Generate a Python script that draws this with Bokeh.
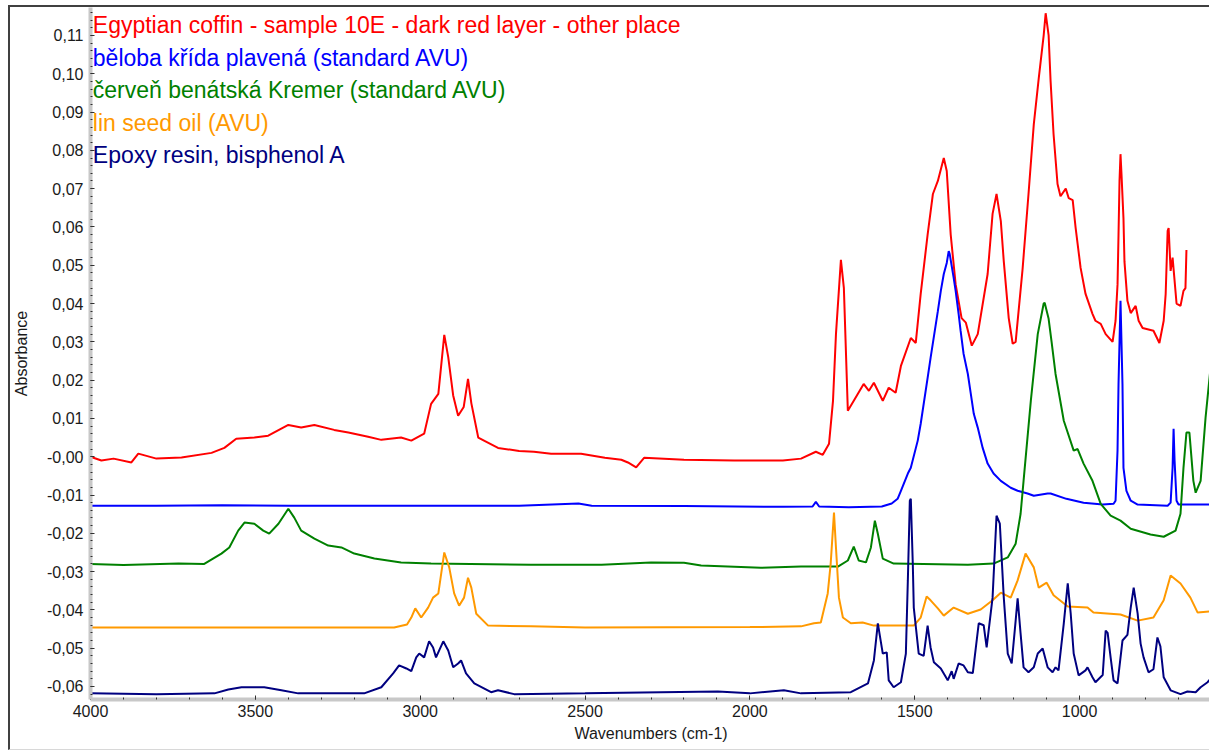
import numpy as np
from bokeh.plotting import figure
from bokeh.models import Range1d, FixedTicker, CustomJSTickFormatter, ColumnDataSource
from bokeh.core.properties import value
from bokeh.embed import file_html
from bokeh.resources import INLINE

# ---------------- data (wavenumber cm-1, absorbance) ----------------
red_wn = [4000, 3967, 3930, 3876, 3855, 3800, 3724, 3633, 3594, 3558, 3503, 3461, 3400, 3361,
          3321, 3261, 3218, 3158, 3118, 3058, 3027, 2988, 2967, 2945, 2927, 2915, 2900, 2885,
          2868, 2855, 2845, 2824, 2764, 2700, 2655, 2603, 2512, 2440, 2390, 2370, 2345, 2321,
          2200, 2048, 1900, 1845, 1800, 1779, 1760, 1748, 1739, 1724, 1715, 1703, 1685, 1655,
          1639, 1624, 1597, 1579, 1558, 1542, 1512, 1497, 1482, 1461, 1445, 1430, 1412, 1403,
          1391, 1376, 1358, 1345, 1327, 1309, 1279, 1264, 1252, 1239, 1230, 1215, 1203, 1194,
          1173, 1155, 1139, 1124, 1109, 1103, 1094, 1088, 1079, 1067, 1058, 1042, 1033, 1021,
          1012, 997, 982, 961, 952, 936, 921, 900, 891, 885, 882, 879, 876, 873, 867, 864, 855,
          845, 830, 821, 809, 776, 758, 745, 739, 733, 730, 724, 718, 715, 706, 694, 685, 679, 676]
red_ab = [0.000, -0.001, -0.0005, -0.0015, 0.0008, -0.0005, -0.0002, 0.001, 0.0023, 0.0047, 0.005,
          0.0055, 0.0083, 0.0076, 0.0083, 0.007, 0.0063, 0.0052, 0.0044, 0.005, 0.0042, 0.006,
          0.0138, 0.0164, 0.0318, 0.026, 0.016, 0.0107, 0.013, 0.0203, 0.014, 0.005, 0.0023,
          0.0015, 0.0013, 0.0008, 0.0008, -0.0003, -0.0008, -0.0015, -0.0028, -0.0003, -0.0008,
          -0.001, -0.001, -0.0005, 0.0013, 0.0005, 0.0034, 0.0146, 0.032, 0.0514, 0.044, 0.012,
          0.0146, 0.019, 0.0172, 0.0193, 0.0146, 0.018, 0.0167, 0.0237, 0.031, 0.0297, 0.0425,
          0.058, 0.0686, 0.072, 0.078, 0.0746, 0.058, 0.045, 0.0362, 0.035, 0.029, 0.032, 0.0477,
          0.0634, 0.0686, 0.0615, 0.051, 0.0362, 0.0295, 0.030, 0.049, 0.0686, 0.0868, 0.0988,
          0.110, 0.1158, 0.110, 0.098, 0.0842, 0.0712, 0.068, 0.070, 0.0675, 0.067, 0.0597,
          0.0493, 0.0425, 0.0373, 0.0355, 0.0347, 0.032, 0.030, 0.0355, 0.045, 0.058, 0.072,
          0.079, 0.0738, 0.0623, 0.051, 0.0407, 0.0375, 0.0394, 0.0355, 0.0336, 0.0329, 0.0297,
          0.0355, 0.0425, 0.059, 0.0597, 0.0485, 0.052, 0.049, 0.040, 0.0394, 0.0433, 0.044, 0.054]

blue_wn = [4000, 3800, 3600, 3400, 3000, 2700, 2520, 2480, 2200, 1900, 1810, 1800, 1790, 1700,
           1600, 1570, 1552, 1542, 1521, 1512, 1491, 1482, 1461, 1452, 1430, 1421, 1412, 1403,
           1397, 1394, 1382, 1376, 1367, 1361, 1352, 1339, 1330, 1321, 1309, 1294, 1279, 1261,
           1239, 1209, 1188, 1158, 1139, 1097, 1088, 1040, 988, 930, 897, 891, 885, 882, 876,
           870, 867, 858, 845, 824, 733, 724, 718, 715, 712, 706, 700, 603]
blue_ab = [-0.0128, -0.0128, -0.0127, -0.0128, -0.0128, -0.0128, -0.0122, -0.0128, -0.0129,
           -0.0131, -0.013, -0.0118, -0.013, -0.0132, -0.013, -0.0122, -0.011, -0.0089, -0.0044,
           -0.0029, 0.0042, 0.0086, 0.0206, 0.0258, 0.038, 0.0433, 0.0477, 0.0506, 0.0537,
           0.0529, 0.0467, 0.0433, 0.0373, 0.0329, 0.0269, 0.0216, 0.0164, 0.0112, 0.0076,
           0.0023, -0.0018, -0.0044, -0.0063, -0.0081, -0.0089, -0.0096, -0.0102, -0.0096,
           -0.0096, -0.011, -0.012, -0.0125, -0.0123, -0.0115, 0.0016, 0.019, 0.0407, 0.019,
           -0.0029, -0.0089, -0.0115, -0.0125, -0.0128, -0.012, -0.0029, 0.0073, -0.001,
           -0.0115, -0.0125, -0.0125]

green_wn = [4000, 3900, 3733, 3655, 3603, 3579, 3552, 3533, 3503, 3476, 3458, 3430, 3400, 3382,
            3361, 3321, 3279, 3239, 3200, 3139, 3058, 2967, 2664, 2450, 2300, 2200, 2148, 1967,
            1845, 1733, 1703, 1685, 1670, 1648, 1633, 1621, 1612, 1597, 1564, 1339, 1261, 1218,
            1194, 1179, 1170, 1148, 1127, 1109, 1106, 1094, 1085, 1073, 1048, 1018, 1006, 988,
            961, 936, 906, 876, 845, 785, 745, 709, 694, 685, 676, 667, 655, 648, 633, 618, 603]
green_ab = [-0.028, -0.0283, -0.0279, -0.028, -0.0253, -0.0237, -0.0193, -0.0172, -0.0175,
            -0.0193, -0.0201, -0.0175, -0.0136, -0.0159, -0.0193, -0.0214, -0.0232, -0.0237,
            -0.0253, -0.0266, -0.0276, -0.0279, -0.0282, -0.0282, -0.0276, -0.0277, -0.0284,
            -0.029, -0.0287, -0.0287, -0.0271, -0.0235, -0.0271, -0.0276, -0.0237, -0.0167,
            -0.0201, -0.0266, -0.0279, -0.0282, -0.0279, -0.0263, -0.0227, -0.0149, -0.0063,
            0.0146, 0.032, 0.040, 0.0402, 0.036, 0.030, 0.0216, 0.0094, 0.0016, 0.002, -0.0018,
            -0.0063, -0.0123, -0.0154, -0.0167, -0.0188, -0.0203, -0.0209, -0.0193, -0.0149,
            -0.0029, 0.0063, 0.0063, -0.0063, -0.0094, -0.0063, 0.0102, 0.0232]

orange_wn = [4000, 3500, 3079, 3040, 3027, 3015, 2997, 2976, 2961, 2945, 2927, 2912, 2897, 2882,
             2867, 2855, 2845, 2830, 2794, 2664, 2500, 2000, 1845, 1806, 1785, 1764, 1755, 1745,
             1739, 1730, 1718, 1694, 1658, 1624, 1503, 1482, 1464, 1452, 1430, 1412, 1382, 1339,
             1300, 1264, 1239, 1209, 1188, 1164, 1139, 1124, 1100, 1079, 1036, 976, 958, 876,
             824, 776, 745, 724, 694, 664, 642, 603]
orange_ab = [-0.0446, -0.0446, -0.0446, -0.0438, -0.042, -0.0396, -0.042, -0.0394, -0.0368,
             -0.0357, -0.025, -0.0289, -0.0357, -0.0389, -0.0368, -0.0316, -0.0342, -0.041,
             -0.0441, -0.0443, -0.0446, -0.0445, -0.0443, -0.0435, -0.0433, -0.0357, -0.0279,
             -0.0146, -0.0237, -0.0368, -0.042, -0.0435, -0.0433, -0.0441, -0.0441, -0.042,
             -0.0365, -0.0375, -0.0396, -0.0415, -0.0394, -0.041, -0.0399, -0.0375, -0.0355,
             -0.0368, -0.0323, -0.0253, -0.0289, -0.0342, -0.0329, -0.0362, -0.0391, -0.0394,
             -0.0407, -0.0412, -0.0428, -0.042, -0.0375, -0.031, -0.0331, -0.0368, -0.0407,
             -0.0404]

navy_wn = [4000, 3800, 3624, 3582, 3542, 3473, 3421, 3370, 3170, 3118, 3082, 3064, 3042, 3027,
           3012, 3003, 2988, 2973, 2961, 2952, 2930, 2915, 2900, 2885, 2876, 2861, 2836, 2785,
           2764, 2715, 2500, 2097, 2000, 1897, 1845, 1694, 1642, 1624, 1612, 1597, 1585, 1579,
           1564, 1542, 1527, 1521, 1515, 1512, 1506, 1503, 1488, 1473, 1461, 1452, 1442, 1421,
           1400, 1388, 1382, 1367, 1352, 1339, 1324, 1306, 1291, 1282, 1264, 1252, 1242, 1230,
           1218, 1206, 1194, 1188, 1179, 1170, 1155, 1139, 1127, 1112, 1097, 1082, 1073, 1064,
           1048, 1036, 1027, 1018, 1003, 982, 976, 961, 952, 930, 921, 915, 906, 897, 885, 870,
           855, 845, 836, 824, 815, 806, 791, 776, 764, 755, 745, 724, 694, 673, 648, 633, 612, 603]
navy_ab = [-0.0618, -0.062, -0.0618, -0.0608, -0.0602, -0.0602, -0.061, -0.0618, -0.0618,
           -0.0602, -0.0566, -0.0545, -0.0553, -0.056, -0.0524, -0.0514, -0.0524, -0.0482,
           -0.0498, -0.0524, -0.0482, -0.0506, -0.055, -0.054, -0.0532, -0.0566, -0.0592,
           -0.0615, -0.061, -0.062, -0.0618, -0.0613, -0.0618, -0.061, -0.0618, -0.0615,
           -0.0592, -0.0532, -0.0435, -0.0514, -0.0511, -0.0584, -0.0602, -0.0589, -0.0514,
           -0.0323, -0.0115, -0.011, -0.0279, -0.0394, -0.0514, -0.052, -0.0441, -0.0498,
           -0.0537, -0.0553, -0.0584, -0.056, -0.058, -0.054, -0.0545, -0.0563, -0.0565,
           -0.0435, -0.044, -0.0498, -0.0368, -0.0154, -0.0175, -0.0368, -0.0514, -0.054,
           -0.0428, -0.037, -0.0462, -0.055, -0.0563, -0.055, -0.0514, -0.0501, -0.055,
           -0.0563, -0.055, -0.0558, -0.0435, -0.0331, -0.041, -0.0514, -0.0571, -0.0558,
           -0.055, -0.0576, -0.0589, -0.057, -0.0454, -0.046, -0.0524, -0.0584, -0.0592,
           -0.048, -0.0465, -0.0394, -0.0342, -0.041, -0.0488, -0.0524, -0.0563, -0.0555,
           -0.0472, -0.0495, -0.0576, -0.061, -0.062, -0.0613, -0.0615, -0.0602, -0.0589, -0.058]

series_names = ["Egyptian coffin - sample 10E - dark red layer - other place",
                "běloba křída plavená (standard AVU)",
                "červeň benátská Kremer (standard AVU)",
                "lin seed oil (AVU)",
                "Epoxy resin, bisphenol A"]
series_colors = ["#ff0000", "#0000ff", "#008000", "#ff9900", "#000080"]

x_ticks = [4000, 3500, 3000, 2500, 2000, 1500, 1000]
x_tick_labels = ["4000", "3500", "3000", "2500", "2000", "1500", "1000"]
y_ticks = [-0.06, -0.05, -0.04, -0.03, -0.02, -0.01, 0.0, 0.01, 0.02, 0.03, 0.04, 0.05,
           0.06, 0.07, 0.08, 0.09, 0.10, 0.11]
y_tick_labels = ["-0,06", "-0,05", "-0,04", "-0,03", "-0,02", "-0,01", "-0,00", "0,01", "0,02",
                 "0,03", "0,04", "0,05", "0,06", "0,07", "0,08", "0,09", "0,10", "0,11"]

# ---------------- figure ----------------
FONT = "Liberation Sans"
p = figure(width=1201, height=745, output_backend="svg", toolbar_location=None,
           x_range=Range1d(4000, 600), y_range=Range1d(-0.0634, 0.1173),
           min_border_left=79, min_border_right=0, min_border_top=0, min_border_bottom=53,
           background_fill_color="white", border_fill_color="white")
p.margin = (5, 0, 0, 8)
p.styles = {"border-top": "2px solid #404040", "border-left": "2px solid #404040",
            "border-bottom": "1px solid #d8d8d8"}
p.outline_line_color = None
p.xgrid.visible = False
p.ygrid.visible = False

all_series = [(red_wn, red_ab), (blue_wn, blue_ab), (green_wn, green_ab),
              (orange_wn, orange_ab), (navy_wn, navy_ab)]
for (wn, ab), col in zip(all_series, series_colors):
    p.line(wn, ab, line_color=col, line_width=2)

# legend texts
label_src = ColumnDataSource(dict(x=[3993] * 5,
                                  y=[0.1127, 0.1042, 0.0957, 0.0872, 0.0787],
                                  t=series_names, c=series_colors))
p.text(x="x", y="y", text="t", text_color="c", source=label_src,
       text_font=value(FONT), text_font_size=value("23px"),
       text_align="left", text_baseline="alphabetic")

# axes
p.xaxis.ticker = FixedTicker(ticks=x_ticks, minor_ticks=list(np.arange(600, 4001, 100)))
p.xaxis.formatter = CustomJSTickFormatter(args=dict(t=x_ticks, l=x_tick_labels), code="""
let b = 0, d = 1e12;
for (let i = 0; i < t.length; i++) { const e = Math.abs(t[i] - tick); if (e < d) { d = e; b = i; } }
return l[b];""")
p.yaxis.ticker = FixedTicker(ticks=y_ticks,
                             minor_ticks=[round(v, 3) for v in np.arange(-0.062, 0.1171, 0.002)])
p.yaxis.formatter = CustomJSTickFormatter(args=dict(t=y_ticks, l=y_tick_labels), code="""
let b = 0, d = 1e12;
for (let i = 0; i < t.length; i++) { const e = Math.abs(t[i] - tick); if (e < d) { d = e; b = i; } }
return l[b];""")

for ax in (p.xaxis[0], p.yaxis[0]):
    ax.axis_line_color = "#c8c8c8"
    ax.axis_line_width = 4
    ax.major_tick_in = 4
    ax.major_tick_out = 0
    ax.minor_tick_in = 2
    ax.minor_tick_out = 0
    ax.major_tick_line_color = "#303030"
    ax.minor_tick_line_color = "#303030"
    ax.major_tick_line_width = 1
    ax.minor_tick_line_width = 1
    ax.major_label_text_font = FONT
    ax.major_label_text_font_size = "16px"
    ax.major_label_text_color = "#1a1a1a"
    ax.axis_label_text_font = FONT
    ax.axis_label_text_font_size = "16px"
    ax.axis_label_text_font_style = "normal"
    ax.axis_label_text_color = "#1a1a1a"

p.xaxis.axis_label = "Wavenumbers (cm-1)"
p.xaxis.major_label_standoff = 5
p.xaxis.axis_label_standoff = 5
p.yaxis.axis_label = "Absorbance"
p.yaxis.major_label_standoff = 7
p.yaxis.axis_label_standoff = 14

open("out.html", "w").write(file_html(p, INLINE))
